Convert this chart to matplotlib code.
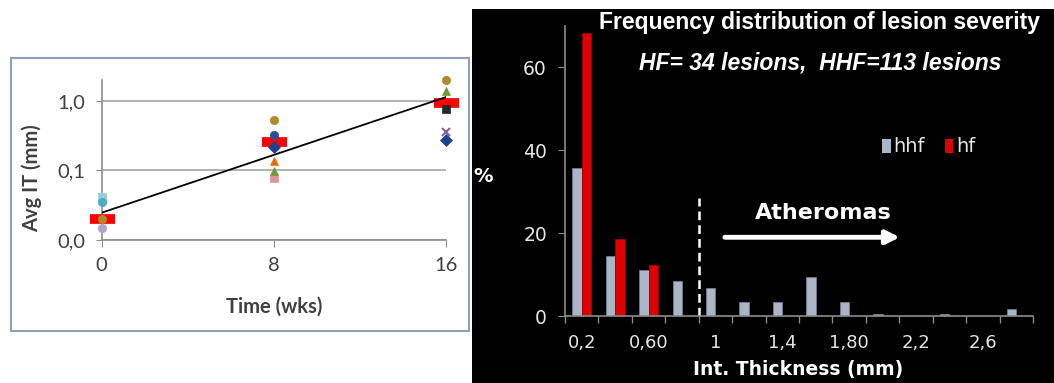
import matplotlib
matplotlib.use("Agg")
import matplotlib.pyplot as plt
from matplotlib.patches import Rectangle, Patch
import numpy as np

nan = np.nan

# ---------------- left panel data ----------------
weeks = [0, 8, 16]
mean_it = [0.020, 0.255, 0.92]

# individual series, value at week 0 / 8 / 16 (mm)
animal_it = [
    [nan, 0.215, 0.27],
    [nan, 0.077, nan],
    [nan, 0.098, 1.41],
    [nan, nan, 0.36],
    [0.0415, nan, nan],
    [0.0349, nan, nan],
    [0.0198, 0.536, 2.02],
    [0.0149, nan, nan],
    [nan, 0.32, nan],
    [nan, 0.137, nan],
    [nan, nan, 0.76],
]
animal_style = [
    ("#1f3f8f", "D"),
    ("#d99694", "s"),
    ("#6f9a3a", "^"),
    ("#7f64a2", "x"),
    ("#93cddd", "s"),
    ("#4bacc6", "o"),
    ("#b08a2a", "o"),
    ("#b3a2c7", "o"),
    ("#2c4d9a", "o"),
    ("#e46c0a", "^"),
    ("#262626", "s"),
]
y_ticks = [0.01, 0.1, 1.0]
y_ticklabels = ["0,0", "0,1", "1,0"]

# ---------------- right panel data ----------------
thickness_labels = ["0,2", "", "0,60", "", "1", "", "1,4", "", "1,80", "", "2,2", "", "2,6", ""]
hhf_pct = [35.7, 14.4, 11.1, 8.4, 6.8, 3.3, 3.3, 9.5, 3.3, 0.6, 0, 0.6, 0, 1.6]
hf_pct = [68.4, 18.7, 12.4, 0, 0, 0, 0, 0, 0, 0, 0, 0, 0, 0]

fig = plt.figure(figsize=(10.54, 3.83), dpi=100)
fig.patch.set_facecolor("white")

# frame round the left chart and black background of the right one
fig.add_artist(Rectangle((11 / 1054, 1 - 331 / 383), 458 / 1054, 273 / 383,
                         transform=fig.transFigure, facecolor="white",
                         edgecolor="#8fa0b4", lw=1.5, zorder=0))
fig.add_artist(Rectangle((472 / 1054, 0), 582 / 1054, 374 / 383,
                         transform=fig.transFigure, facecolor="black",
                         edgecolor="none", zorder=0))

# ---------------- LEFT: avg IT vs time ----------------
lato = "Lato"
ax1 = fig.add_axes([101.7 / 1054, 1 - 240 / 383, 344.3 / 1054, 160 / 383])
ax1.set_facecolor("none")
ax1.set_yscale("log")
ax1.set_ylim(0.01, 2.0)
ax1.set_xlim(0, 16)

for vals, (col, mk) in zip(animal_it, animal_style):
    ax1.plot(weeks, vals, linestyle="none", marker=mk, color=col, ms=6,
             mew=1.5 if mk == "x" else 0.5, clip_on=False, zorder=4)

ax1.plot(weeks, mean_it, linestyle="none", marker="_", color="#ff0000",
         ms=18, mew=7, clip_on=False, zorder=3)

# exponential trendline through the means
k, b = np.polyfit(weeks, np.log10(mean_it), 1)
tx = np.array([weeks[0], weeks[-1]])
ax1.plot(tx, 10 ** (k * tx + b), color="black", lw=1.3, zorder=5)

ax1.set_yticks(y_ticks)
ax1.set_yticklabels(y_ticklabels)
ax1.yaxis.set_minor_locator(matplotlib.ticker.NullLocator())
ax1.set_xticks(weeks)
ax1.set_xticklabels([str(w) for w in weeks])
ax1.grid(axis="y", color="#a6a6a6", lw=1.2)
ax1.set_axisbelow(True)
for s in ["top", "right"]:
    ax1.spines[s].set_visible(False)
for s in ["left", "bottom"]:
    ax1.spines[s].set_color("#8c8c8c")
    ax1.spines[s].set_linewidth(1.2)
ax1.tick_params(axis="y", length=4, color="#8c8c8c", pad=8, labelsize=14.5,
                labelcolor="#404040")
ax1.tick_params(axis="x", length=5, color="#8c8c8c", pad=7, labelsize=14.5,
                labelcolor="#404040")
for lab in ax1.get_xticklabels() + ax1.get_yticklabels():
    lab.set_family(lato)

fig.text(31.7 / 1054, 1 - 178.5 / 383, "Avg IT (mm)", rotation=90, ha="center",
         va="center", fontsize=14.5, fontweight="bold", family=lato, color="#404040")
fig.text(273.9 / 1054, 1 - 306.7 / 383, "Time (wks)", ha="center", va="center",
         fontsize=14.5, fontweight="bold", family=lato, color="#404040")

# ---------------- RIGHT: frequency distribution ----------------
ax2 = fig.add_axes([565 / 1054, 1 - 316 / 383, 468 / 1054, 290 / 383])
ax2.set_facecolor("black")
x = np.arange(len(hhf_pct))
w = 0.28
ax2.bar(x - 0.14, hhf_pct, w, color="#aab6c8", edgecolor="#6f7c8e", lw=0.6, label="hhf")
ax2.bar(x + 0.14, hf_pct, w, color="#dd0000", edgecolor="#990000", lw=0.6, label="hf")
ax2.set_xlim(-0.5, len(x) - 0.5)
ax2.set_ylim(0, 70)

ax2.set_xticks(x)
ax2.set_xticklabels(thickness_labels)
ax2.set_xticks(np.arange(len(x) + 1) - 0.5, minor=True)
ax2.tick_params(axis="x", which="major", length=0, pad=13, labelsize=13,
                labelcolor="#e6e6e6")
ax2.tick_params(axis="x", which="minor", length=5, color="#8c8c8c", width=1)
ax2.set_yticks([0, 20, 40, 60])
ax2.tick_params(axis="y", length=5, color="#8c8c8c", pad=8, labelsize=13.5,
                labelcolor="#e6e6e6")
for s in ["top", "right"]:
    ax2.spines[s].set_visible(False)
for s in ["left", "bottom"]:
    ax2.spines[s].set_color("#8c8c8c")
    ax2.spines[s].set_linewidth(1.2)

# atheroma threshold and arrow
ax2.plot([3.5, 3.5], [0, 28.6], color="white", lw=1.8, dashes=(3.5, 2))
ax2.annotate("", xy=(9.6, 19.0), xytext=(4.2, 19.0),
             arrowprops=dict(arrowstyle="-|>", color="white", lw=3.5,
                             mutation_scale=20))
ax2.text(7.22, 24.8, "Atheromas", color="white", fontsize=16, fontweight="bold",
         ha="center", va="center")

leg = ax2.legend(handles=[Patch(facecolor="#aab6c8", label="hhf"),
                          Patch(facecolor="#dd0000", label="hf")],
                 loc="center left", bbox_to_anchor=(0.64, 0.583), ncol=2,
                 frameon=False, handlelength=0.45, handleheight=0.75,
                 handletextpad=0.15, columnspacing=1.0, fontsize=14)
for t in leg.get_texts():
    t.set_color("#e6e6e6")

fig.text(819 / 1054, 1 - 22 / 383, "Frequency distribution of lesion severity",
         ha="center", va="center", color="white", fontsize=16.5,
         fontweight="bold", family="Liberation Sans")
fig.text(820 / 1054, 1 - 63 / 383, "HF= 34 lesions,  HHF=113 lesions",
         ha="center", va="center", color="white", fontsize=16.5,
         fontweight="bold", style="italic", family="Liberation Sans")
fig.text(483 / 1054, 1 - 176 / 383, "%", ha="center", va="center", color="white",
         fontsize=14, fontweight="bold")
fig.text(798 / 1054, 1 - 369 / 383, "Int. Thickness (mm)", ha="center",
         va="center", color="white", fontsize=13.5, fontweight="bold")

fig.savefig("out.png", dpi=100)
